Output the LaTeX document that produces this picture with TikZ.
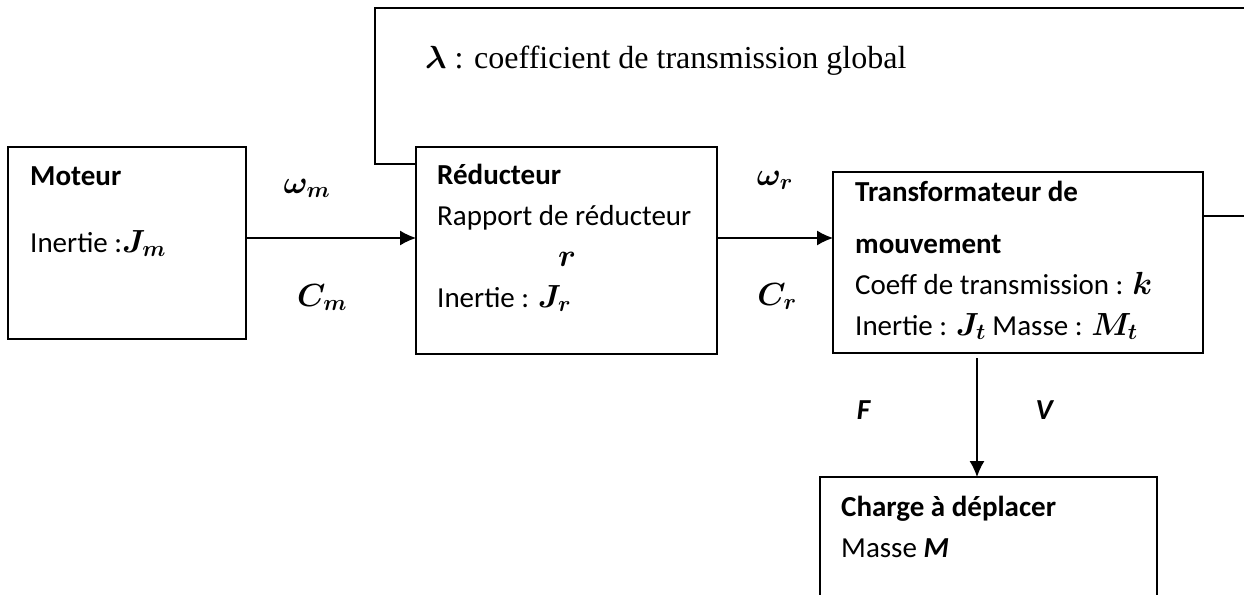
\documentclass[tikz,border=0pt]{standalone}
\usepackage{fix-cm}
\usepackage{fontspec}
\setmainfont{Carlito}
\newfontfamily\policeserif{Liberation Serif}
\usepackage{amsmath,bm}
\usetikzlibrary{arrows.meta,positioning}
\newcommand\corps{\fontsize{29}{41}\selectfont}
\newcommand\mgras[1]{\mbox{\fontsize{32}{41}\selectfont$\bm{#1}$}}
\tikzset{bloc/.style={
        draw,
        line width=1.3pt,
        outer sep=0pt,
        inner sep=0pt,
        anchor=north west,
    },
    txt/.style={
        font=\corps,
        align=left,
        inner sep=0pt,
        anchor=base west,
    },
    grandeur/.style={
        font=\corps,
        inner sep=0pt,
        anchor=base,
    },
    lien/.style={
        draw,
        line width=1.3pt,
    },
    fleche/.style={
        draw,
        line width=1.3pt,
        -{Latex[length=16pt,width=15pt]},
    }}

\begin{document}
\begin{tikzpicture}[x=1pt,y=-1pt]
	\path[use as bounding box, clip] (0,0) rectangle (1244,594);
	% blocs
	\node[bloc, minimum width=238pt, minimum height=192pt] (moteur) at (8,147) {};
	\node[bloc, minimum width=301pt, minimum height=207pt] (reducteur) at (416,147) {};
	\node[bloc, minimum width=370pt, minimum height=181pt] (transfo) at (833,172) {};
	\node[bloc, minimum width=337pt, minimum height=200pt] (charge) at (820,477) {};
	% textes des blocs (ancres sur la derniere ligne)
	\node[txt] (moteurT) at (30,252) {\textbf{Moteur}\\[26pt]Inertie :\mgras{J_m}};
	\node[txt] (reducteurT) at (437,307) {\textbf{Réducteur}\\Rapport de réducteur\\\hspace*{121pt}\mgras{r}\\Inertie : \mgras{J_r}};
	\node[txt] (transfoT) at (855,335) {\textbf{Transformateur de}\\[11pt]\textbf{mouvement}\\Coeff de transmission : \mgras{k}\\Inertie : \mgras{J_t} Masse : \mgras{M_t}};
	\node[txt] (chargeT) at (841,557) {\textbf{Charge à déplacer}\\Masse \textbf{\textit{M}}};
	\node[txt, font=\policeserif\fontsize{32}{38}\selectfont] (lambda) at (425,68) {\mgras{\lambda} : coefficient de transmission global};
	% grandeurs
	\node[grandeur] (wm) at (307,193) {\mgras{\omega_m}};
	\node[grandeur] (cm) at (322,306) {\mgras{C_m}};
	\node[grandeur] (wr) at (775,185) {\mgras{\omega_r}};
	\node[grandeur] (cr) at (777,305) {\mgras{C_r}};
	\node[grandeur] (force) at (864,419) {\textbf{\textit{F}}};
	\node[grandeur] (vitesse) at (1045,419) {\textbf{\textit{V}}};
	% liaisons
	\coordinate (axe) at (0,238);
	\coordinate (hautG) at (375,8);
	\coordinate (hautD) at (1250,8);
	\coordinate (sortie) at (1250,216);
	\coordinate (descente) at (977,358);
	\draw[fleche] (moteur.east |- axe) -- (reducteur.west |- axe);
	\draw[fleche] (reducteur.east |- axe) -- (transfo.west |- axe);
	\draw[lien] ([yshift=-17pt]reducteur.north west) -| (hautG) -- (hautD);
	\draw[lien] (transfo.east |- sortie) -- (sortie);
	\draw[fleche] (descente) -- (descente |- charge.north);
\end{tikzpicture}
\end{document}
